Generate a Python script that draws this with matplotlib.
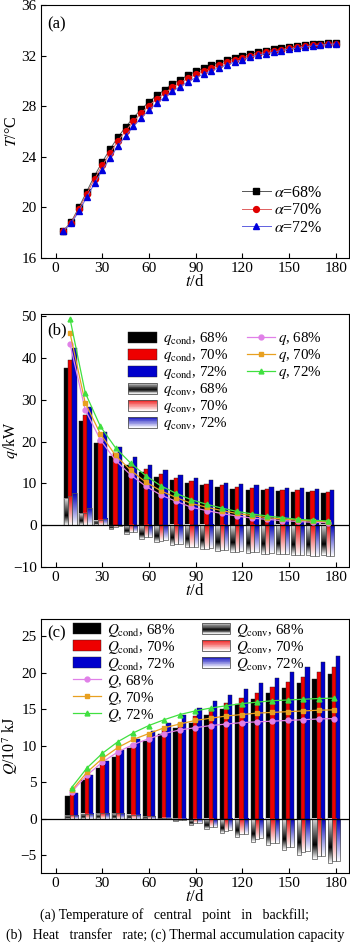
import numpy as np
import matplotlib
matplotlib.use("Agg")
import matplotlib.pyplot as plt
from matplotlib.patches import Rectangle
from matplotlib.lines import Line2D
from matplotlib.legend_handler import HandlerBase
from matplotlib.colors import LinearSegmentedColormap

plt.rcParams['font.family'] = ['Liberation Serif', 'DejaVu Serif']
plt.rcParams['mathtext.fontset'] = 'stix'
plt.rcParams['font.size'] = 10

# ---------------- data ----------------
t_a = [5, 10, 15, 20, 25, 30, 35, 40, 45, 50, 55, 60, 65, 70, 75, 80, 85, 90,
       95, 100, 105, 110, 115, 120, 125, 130, 135, 140, 145, 150, 155, 160, 165, 170, 175, 180]
T68 = [18.15, 18.85, 20.0, 21.25, 22.5, 23.6, 24.6, 25.55, 26.35, 27.1, 27.75, 28.35,
       28.85, 29.3, 29.75, 30.1, 30.45, 30.75, 31.0, 31.25, 31.45, 31.65, 31.85, 32.0,
       32.15, 32.3, 32.4, 32.5, 32.6, 32.7, 32.75, 32.82, 32.88, 32.93, 32.97, 33.0]
T70 = [18.15, 18.80, 19.88, 21.05, 22.25, 23.32, 24.30, 25.25, 26.05, 26.80, 27.45, 28.05,
       28.57, 29.03, 29.49, 29.85, 30.21, 30.52, 30.78, 31.04, 31.25, 31.46, 31.67, 31.83,
       31.99, 32.15, 32.26, 32.37, 32.48, 32.59, 32.65, 32.73, 32.80, 32.86, 32.91, 32.95]
T72 = [18.15, 18.73, 19.70, 20.80, 21.90, 22.95, 23.90, 24.85, 25.65, 26.40, 27.07, 27.70,
       28.23, 28.70, 29.18, 29.55, 29.93, 30.25, 30.53, 30.81, 31.04, 31.27, 31.50, 31.68,
       31.86, 32.04, 32.16, 32.28, 32.40, 32.52, 32.59, 32.68, 32.76, 32.83, 32.88, 32.92]

# panel (b): heat transfer rate, kW
t_b = [9.3, 19.0, 28.8, 38.5, 48.3, 58.0, 67.7, 77.5, 87.2, 97.0, 106.7, 116.4,
       126.2, 135.9, 145.7, 155.4, 165.1, 174.9]
qcond68 = [37.5, 25.0, 19.6, 16.5, 14.3, 12.7, 11.6, 10.7, 10.0, 9.5, 9.1, 8.75, 8.5, 8.3, 8.1, 7.95, 7.85, 7.8]
qcond70 = [39.5, 26.4, 20.4, 17.2, 14.9, 13.4, 12.2, 11.2, 10.5, 9.9, 9.5, 9.1, 8.8, 8.6, 8.4, 8.3, 8.1, 8.0]
qcond72 = [42.4, 28.2, 22.3, 18.8, 16.3, 14.5, 13.1, 12.1, 11.3, 10.7, 10.2, 9.8, 9.5, 9.1, 9.0, 8.8, 8.7, 8.5]
qconv68 = [6.4, 2.8, 1.0, -0.8, -2.1, -3.2, -4.0, -4.8, -5.3, -5.8, -6.1, -6.4, -6.6, -6.8, -7.0, -7.1, -7.15, -7.2]
qconv70 = [6.9, 3.0, 1.3, -0.4, -1.7, -2.9, -3.7, -4.6, -5.2, -5.6, -6.0, -6.3, -6.5, -6.8, -7.0, -7.2, -7.3, -7.4]
qconv72 = [7.6, 4.0, 1.5, -0.2, -1.6, -2.8, -3.6, -4.5, -5.1, -5.5, -5.9, -6.2, -6.4, -6.7, -6.9, -7.1, -7.25, -7.4]
q68 = [43.3, 27.6, 20.4, 15.5, 12.0, 9.3, 7.2, 5.7, 4.3, 3.5, 2.8, 2.2, 1.7, 1.4, 1.1, 0.9, 0.7, 0.6]
q70 = [45.9, 29.3, 21.8, 16.7, 13.1, 10.3, 8.2, 6.6, 5.2, 4.3, 3.5, 2.8, 2.3, 1.8, 1.5, 1.2, 1.0, 0.8]
q72 = [49.3, 31.7, 23.6, 18.5, 14.8, 11.8, 9.4, 7.6, 6.1, 5.0, 4.1, 3.3, 2.7, 2.2, 1.8, 1.4, 1.2, 1.0]

# panel (c): thermal accumulation, 1e7 kJ
t_c = [10.3, 20.2, 30.1, 40.1, 50.0, 59.9, 69.8, 79.7, 89.7, 99.6, 109.5, 119.4,
       129.3, 139.3, 149.2, 159.1, 169.0, 178.9]
Qcond68 = [3.2, 5.4, 7.0, 8.5, 9.7, 10.7, 11.7, 12.5, 13.2, 14.2, 15.0, 15.8, 16.5, 17.2, 17.9, 18.6, 19.2, 19.9]
Qcond70 = [3.4, 5.7, 7.4, 8.9, 10.3, 11.4, 12.3, 13.1, 14.1, 15.0, 15.9, 16.6, 17.3, 18.1, 18.8, 19.5, 20.2, 20.8]
Qcond72 = [3.6, 6.0, 8.0, 9.5, 10.9, 12.0, 13.2, 14.3, 15.2, 16.1, 17.0, 17.8, 18.6, 19.3, 20.1, 20.8, 21.5, 22.3]
Qconv68 = [0.5, 0.7, 0.8, 0.75, 0.6, 0.35, 0.1, -0.3, -0.8, -1.4, -1.9, -2.5, -3.1, -3.6, -4.2, -4.9, -5.5, -6.1]
Qconv70 = [0.5, 0.7, 0.8, 0.75, 0.6, 0.4, 0.15, -0.2, -0.6, -1.1, -1.6, -2.1, -2.7, -3.3, -3.8, -4.5, -5.1, -5.8]
Qconv72 = [0.5, 0.7, 0.8, 0.75, 0.6, 0.4, 0.15, -0.15, -0.55, -1.05, -1.55, -2.1, -2.65, -3.25, -3.8, -4.45, -5.05, -5.7]
Q68 = [3.7, 6.0, 7.8, 9.2, 10.2, 11.0, 11.7, 12.2, 12.5, 12.8, 13.0, 13.2, 13.3, 13.4, 13.5, 13.6, 13.7, 13.75]
Q70 = [3.9, 6.4, 8.3, 9.8, 10.9, 11.7, 12.5, 13.0, 13.5, 13.8, 14.1, 14.3, 14.5, 14.6, 14.7, 14.8, 14.9, 14.95]
Q72 = [4.3, 7.0, 9.0, 10.6, 11.8, 12.8, 13.6, 14.3, 14.8, 15.2, 15.5, 15.8, 16.0, 16.2, 16.3, 16.4, 16.5, 16.55]

pcts = ['68%', '70%', '72%']

# ---------------- styles ----------------
cond_colors = ['#000000', '#ee0000', '#0000cc']
cm_black = LinearSegmentedColormap.from_list('gk', [(0, '#e0e0e0'), (0.65, '#000000'), (1, '#ffffff')])
cm_red = LinearSegmentedColormap.from_list('gr', [(0, '#ee1010'), (1, '#ffffff')])
cm_blue = LinearSegmentedColormap.from_list('gb', [(0, '#0000bb'), (1, '#ffffff')])
grad_cmaps = [cm_black, cm_red, cm_blue]
line_colors = ['#e080e8', '#e8a020', '#40e040']
line_markers = ['o', 's', '^']
GRAD = np.linspace(0, 1, 64).reshape(-1, 1)
LFS = 10.8   # legend font size
TFS = 11     # tick font size


class GradHandler(HandlerBase):
    def __init__(self, cmap, n=16):
        super().__init__()
        self.cmap = cmap
        self.n = n

    def create_artists(self, legend, orig_handle, xdescent, ydescent, width, height, fontsize, trans):
        arts = []
        for i in range(self.n):
            c = self.cmap((i + 0.5) / self.n)
            y = -ydescent + height * (1 - (i + 1) / self.n)
            arts.append(Rectangle((-xdescent, y), width, height / self.n * 1.05, facecolor=c,
                                  edgecolor='none', transform=trans))
        arts.append(Rectangle((-xdescent, -ydescent), width, height, facecolor='none',
                              edgecolor='#555555', lw=0.6, transform=trans))
        return arts


def grad_bar(ax, x, w, val, cmap):
    top, bot = max(val, 0), min(val, 0)
    if top - bot <= 0:
        return
    ax.imshow(GRAD, extent=(x - w / 2, x + w / 2, bot, top), origin='upper', cmap=cmap,
              aspect='auto', interpolation='bilinear', zorder=3)
    ax.add_patch(Rectangle((x - w / 2, bot), w, top - bot, fill=False, ec='#555555', lw=0.5, zorder=3.1))


def style_axes(ax):
    ax.tick_params(direction='in', length=3.5, width=0.8, labelsize=TFS, top=False, right=False, pad=3)
    for s in ax.spines.values():
        s.set_linewidth(0.8)
    ax.set_xlim(-9.4, 188.4)
    ax.set_xticks([0, 30, 60, 90, 120, 150, 180])
    ax.set_xlabel(r'$t$/d', fontsize=12, labelpad=-1)
    ax.yaxis.set_label_coords(-0.068, 0.5)


fig = plt.figure(figsize=(3.5, 9.46), dpi=100)
ax1 = fig.add_axes([0.117, 0.7273, 0.880, 0.2674])
ax2 = fig.add_axes([0.117, 0.4006, 0.880, 0.2675])
ax3 = fig.add_axes([0.117, 0.0772, 0.880, 0.2685])

# ---------------- (a) ----------------
amark = ['s', 'o', '^']
acol = ['#000000', '#e00000', '#0000dd']
lcol = ['#555555', '#e06060', '#6060e0']
for T, mk, c, lc, p in zip([T68, T70, T72], amark, acol, lcol, pcts):
    ax1.plot(t_a, T, color=lc, lw=0.7, marker=mk, ms=4.2, mfc=c, mec=c, label=r'$\alpha$=' + p)
style_axes(ax1)
ax1.set_ylim(16, 36)
ax1.set_yticks([16, 20, 24, 28, 32, 36])
ax1.set_ylabel(r'$T$/°C', fontsize=11.5)
ax1.text(0.02, 0.955, '(a)', transform=ax1.transAxes, fontsize=12, va='top', ha='left')
ax1.legend(loc='upper left', bbox_to_anchor=(0.652, 0.29), frameon=False, fontsize=11.5,
           handlelength=1.8, handletextpad=0.2, labelspacing=0.1, borderpad=0, borderaxespad=0)

# ---------------- (b) ----------------
wb = 2.8
offs = [-1, 0, 1]
for vals, c, o in zip([qcond68, qcond70, qcond72], cond_colors, offs):
    ax2.bar([t + o * wb for t in t_b], vals, width=wb, color=c, edgecolor='#222222', lw=0.3, zorder=2)
for vals, cm, o in zip([qconv68, qconv70, qconv72], grad_cmaps, offs):
    for t, v in zip(t_b, vals):
        grad_bar(ax2, t + o * wb, wb, v, cm)
ax2.axhline(0, color='k', lw=0.9, zorder=4)
for vals, c, mk in zip([q68, q70, q72], line_colors, line_markers):
    ax2.plot(t_b, vals, color=c, lw=0.9, marker=mk, ms=3.5, mfc=c, mec=c, zorder=5)
style_axes(ax2)
ax2.set_ylim(-10, 50.5)
ax2.set_yticks([-10, 0, 10, 20, 30, 40, 50])
ax2.set_ylabel(r'$q$/kW', fontsize=11.5)
ax2.text(0.02, 0.965, '(b)', transform=ax2.transAxes, fontsize=12, va='top', ha='left')

hb = [Rectangle((0, 0), 1, 1, fc=c, ec='#222222', lw=0.3) for c in cond_colors]
hg = [Rectangle((0, 0), 1, 1) for _ in range(3)]
lb = [r'$q_{\rm cond}$, ' + p for p in pcts] + [r'$q_{\rm conv}$, ' + p for p in pcts]
hmap = {h: GradHandler(cm) for h, cm in zip(hg, grad_cmaps)}
legb1 = ax2.legend(hb + hg, lb, handler_map=hmap, loc='upper left', bbox_to_anchor=(0.284, 0.935),
                   frameon=False, fontsize=LFS, handlelength=1.9, handleheight=0.75, handletextpad=0.4,
                   labelspacing=0.0, borderpad=0, borderaxespad=0)
ax2.add_artist(legb1)
hl = [Line2D([], [], color=c, lw=0.9, marker=m, ms=3.5) for c, m in zip(line_colors, line_markers)]
ax2.legend(hl, [r'$q$, ' + p for p in pcts], loc='upper left', bbox_to_anchor=(0.668, 0.935),
           frameon=False, fontsize=LFS, handlelength=1.9, handletextpad=0.2, labelspacing=0.0,
           borderpad=0, borderaxespad=0)

# ---------------- (c) ----------------
wc = 2.7
for vals, c, o in zip([Qcond68, Qcond70, Qcond72], cond_colors, offs):
    ax3.bar([t + o * wc for t in t_c], vals, width=wc, color=c, edgecolor='#222222', lw=0.3, zorder=2)
for vals, cm, o in zip([Qconv68, Qconv70, Qconv72], grad_cmaps, offs):
    for t, v in zip(t_c, vals):
        grad_bar(ax3, t + o * wc, wc, v, cm)
ax3.axhline(0, color='k', lw=0.9, zorder=4)
for vals, c, mk in zip([Q68, Q70, Q72], line_colors, line_markers):
    ax3.plot(t_c, vals, color=c, lw=0.9, marker=mk, ms=3.5, mfc=c, mec=c, zorder=5)
style_axes(ax3)
ax3.set_ylim(-7.4, 27.4)
ax3.set_yticks([-5, 0, 5, 10, 15, 20, 25])
ax3.set_ylabel(r'$Q$/10$^7$ kJ', fontsize=11.5)
ax3.text(0.02, 0.975, '(c)', transform=ax3.transAxes, fontsize=12, va='top', ha='left')

hc = [Rectangle((0, 0), 1, 1, fc=c, ec='#222222', lw=0.3) for c in cond_colors]
hlc = [Line2D([], [], color=c, lw=0.9, marker=m, ms=3.5) for c, m in zip(line_colors, line_markers)]
legc1 = ax3.legend(hc + hlc, [r'$Q_{\rm cond}$, ' + p for p in pcts] + [r'$Q$, ' + p for p in pcts],
                   loc='upper left', bbox_to_anchor=(0.103, 0.99), frameon=False, fontsize=LFS,
                   handlelength=1.9, handleheight=0.75, handletextpad=0.4, labelspacing=0.0,
                   borderpad=0, borderaxespad=0)
ax3.add_artist(legc1)
hgc = [Rectangle((0, 0), 1, 1) for _ in range(3)]
hmapc = {h: GradHandler(cm) for h, cm in zip(hgc, grad_cmaps)}
ax3.legend(hgc, [r'$Q_{\rm conv}$, ' + p for p in pcts], handler_map=hmapc, loc='upper left',
           bbox_to_anchor=(0.522, 0.99), frameon=False, fontsize=LFS, handlelength=1.9,
           handleheight=0.75, handletextpad=0.4, labelspacing=0.0, borderpad=0, borderaxespad=0)

fig.text(0.5, 0.0328, '(a) Temperature of   central   point   in   backfill;', ha='center', va='center', fontsize=10)
fig.text(0.5, 0.0116, '(b)   Heat   transfer   rate; (c) Thermal accumulation capacity', ha='center', va='center', fontsize=10)

fig.savefig('out.png', dpi=100)
